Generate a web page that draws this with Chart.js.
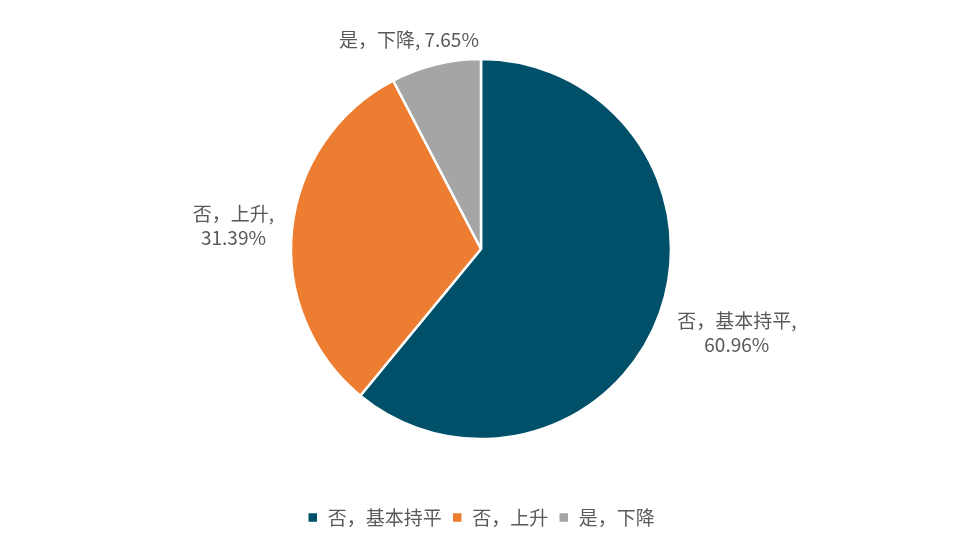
<!DOCTYPE html>
<html><head><meta charset="utf-8">
<script src="https://cdn.jsdelivr.net/npm/chart.js@4"></script>
<style>html,body{margin:0;background:#fff}#w{width:962px;height:549px}</style>
</head><body><div id="w"><canvas id="c"></canvas></div>
<script>
const categories = ['否，基本持平', '否，上升', '是，下降'];
const values = [60.96, 31.39, 7.65];
const pieLabels = [['否，基本持平,', '60.96%'], ['否，上升,', '31.39%'], ['是，下降, 7.65%']];
const colors = ['#00506A', '#ED7D31', '#A5A5A5'];
const FONT = '"Noto Sans CJK SC", "Noto Sans", sans-serif';

const outLabels = {
  id: 'outLabels',
  afterDatasetsDraw(chart) {
    const ctx = chart.ctx;
    const meta = chart.getDatasetMeta(0);
    ctx.save();
    ctx.font = '19px ' + FONT;
    ctx.fillStyle = '#595959';
    meta.data.forEach((arc, i) => {
      const mid = (arc.startAngle + arc.endAngle) / 2;
      const r = arc.outerRadius + 12;
      let x = arc.x + Math.cos(mid) * r;
      let y = arc.y + Math.sin(mid) * r;
      const lines = pieLabels[i];
      const lh = 24;
      if (i === 2) {
        ctx.textAlign = 'center'; ctx.textBaseline = 'alphabetic';
        ctx.fillText(lines[0], x - 24, y - 6);
        return;
      }
      ctx.textAlign = Math.cos(mid) >= 0 ? 'center' : 'center';
      ctx.textBaseline = 'middle';
      const w = Math.max(...lines.map(l => ctx.measureText(l).width));
      const cx = Math.cos(mid) >= 0 ? x + w / 2 + 6 : x - w / 2 - 6;
      const cy = Math.cos(mid) >= 0 ? y + 16 : y - 2;
      lines.forEach((l, k) => ctx.fillText(l, cx, cy + (k - (lines.length - 1) / 2) * lh));
    });
    ctx.restore();
  }
};

new Chart(document.getElementById('c'), {
  type: 'pie',
  data: { labels: categories, datasets: [{ data: values, backgroundColor: colors, borderColor: '#fff', borderWidth: 2.5, radius: 190 }] },
  options: {
    responsive: true, maintainAspectRatio: false, animation: false,
    layout: { padding: { top: 0, bottom: 12 } },
    plugins: {
      tooltip: { enabled: false },
      legend: { position: 'bottom', labels: { boxWidth: 11, boxHeight: 11, padding: 10, color: '#595959', font: { size: 19, family: FONT } } }
    }
  },
  plugins: [outLabels]
});
</script></body></html>
